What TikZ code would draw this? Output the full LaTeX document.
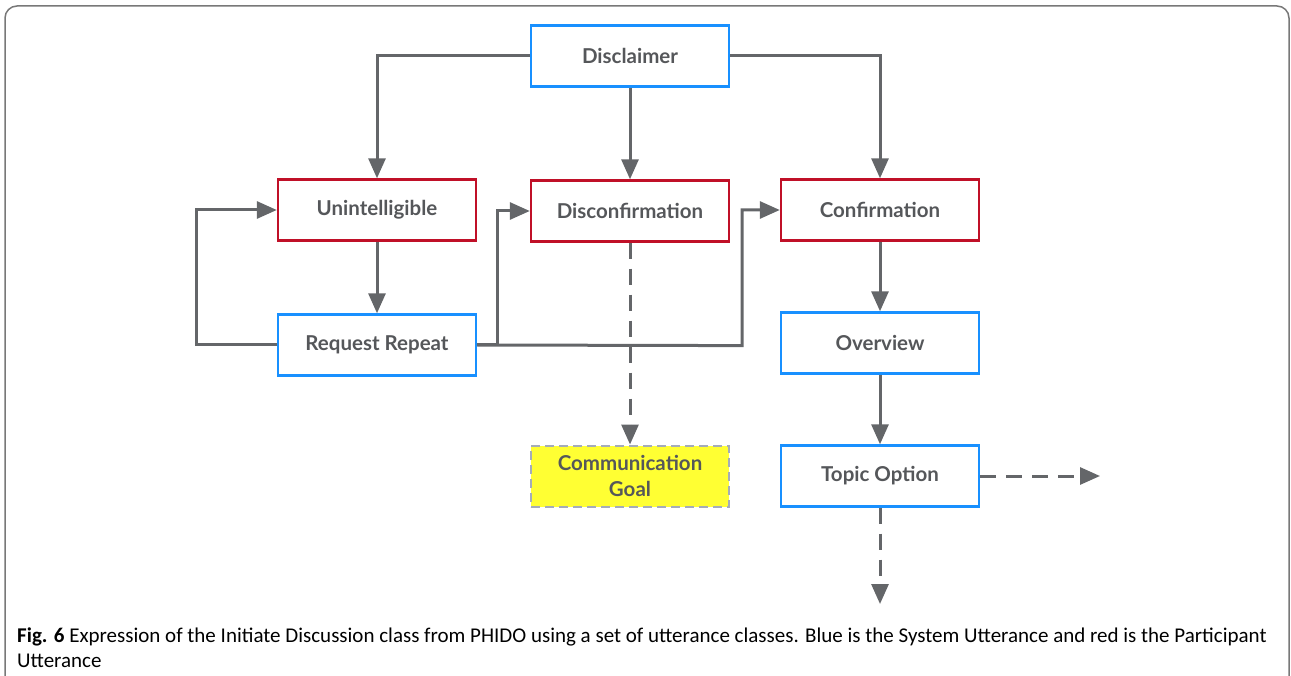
\documentclass[tikz,border=0pt]{standalone}
\usepackage{fontspec}
\setmainfont{Carlito}
\newfontfamily\boxfont{Lato}
\usetikzlibrary{arrows.meta}
\definecolor{sysblue}{RGB}{24,144,255}
\definecolor{partred}{RGB}{192,16,40}
\definecolor{linegray}{RGB}{100,102,105}
\definecolor{txtgray}{RGB}{85,87,90}
\definecolor{goalyellow}{RGB}{255,255,51}
\definecolor{goaledge}{RGB}{165,172,185}
\definecolor{framegray}{RGB}{120,120,120}
\tikzset{
  uttbox/.style={draw, line width=2.4pt, minimum width=198pt, minimum height=61pt,
    inner sep=0pt, fill=white, align=center, text=txtgray,
    font=\boxfont\bfseries\fontsize{20.5}{26}\selectfont},
  sysbox/.style={uttbox, draw=sysblue},
  partbox/.style={uttbox, draw=partred},
  goalbox/.style={uttbox, draw=goaledge, fill=goalyellow, dash pattern=on 9pt off 5pt, line width=2pt},
  link/.style={draw=linegray, line width=3pt, -{Triangle[length=20pt,width=17pt]}},
  dashlink/.style={link, dash pattern=on 16pt off 10pt},
}
\begin{document}
\begin{tikzpicture}[x=1pt, y=-1pt]
\useasboundingbox (0,0) rectangle (1291,676);
% open frame around the figure and its caption
\draw[framegray, line width=1.5pt, rounded corners=12pt] (5,680) -- (5,6) -- (1289,6) -- (1289,680);

% utterance classes
\node[sysbox]  (disc)  at (630,56)  {Disclaimer};
\node[partbox] (unint) at (377,210) {Unintelligible};
\node[partbox] (dconf) at (630,211) {Disconfirmation};
\node[partbox] (conf)  at (880,210) {Confirmation};
\node[sysbox]  (rep)   at (377,345) {Request Repeat};
\node[sysbox]  (over)  at (880,343) {Overview};
\node[goalbox] (goal)  at (630,476) {Communication\\Goal};
\node[sysbox]  (topic) at (880,476) {Topic Option};

% free ends of the outgoing dashed links
\coordinate (outR) at (1100,476);
\coordinate (outD) at (880,604);

% connectors
\draw[link] (disc.west) -| (unint.north);
\draw[link] (disc.south) -- (dconf.north);
\draw[link] (disc.east) -| (conf.north);
\draw[link] (unint.south) -- (rep.north);
\draw[link] (rep.west) -- ++(-80,0) |- (unint.west);
\draw[link] (rep.east) -- ++(20,0) |- (dconf.west);
\draw[link] (rep.east) -- (742,345.6) |- (conf.west);
\draw[dashlink] (dconf.south) -- (goal.north);
\draw[link] (conf.south) -- (over.north);
\draw[link] (over.south) -- (topic.north);
\draw[dashlink] (topic.east) -- (outR);
\draw[dashlink] (topic.south) -- (outD);

% caption
\node[anchor=north west, inner sep=0pt, font=\fontsize{21}{25}\selectfont, align=left] (cap) at (17,628)
  {\textbf{Fig. 6} Expression of the Initiate Discussion class from PHIDO using a set of utterance classes. Blue is the System Utterance and red is the Participant\\Utterance};
\end{tikzpicture}
\end{document}
